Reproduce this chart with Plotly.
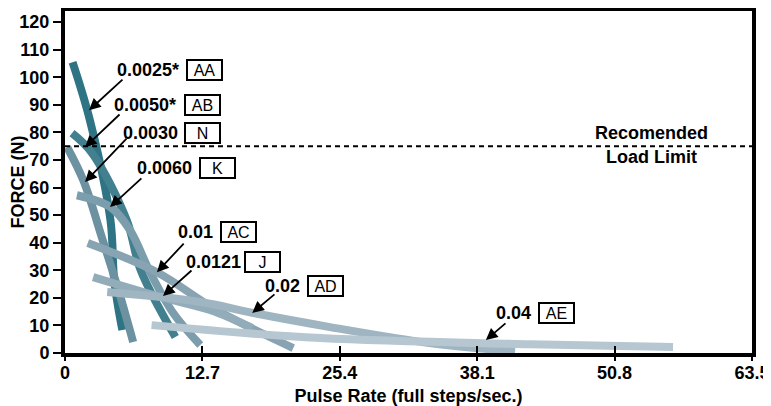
import plotly.graph_objects as go

# curve data: (pulse rate, force)
series_names = ["AA", "AB", "N", "K", "AC", "J", "AD", "AE"]
series_values = ["0.0025*", "0.0050*", "0.0030", "0.0060", "0.01", "0.0121", "0.02", "0.04"]

aa_x = [0.7, 2.3, 4.2, 4.55, 5.3]
aa_y = [105.4, 84.4, 48.2, 26.4, 8.3]
ab_x = [0.65, 2.5, 5.7, 7.0, 10.2]
ab_y = [79.7, 72.5, 48.2, 30.0, 5.8]
n_x = [0.2, 1.7, 3.4, 5.0, 6.3]
n_y = [74.6, 62.5, 42.0, 22.0, 4.0]
k_x = [1.1, 4.2, 6.0, 7.9, 10.0, 12.5]
k_y = [57.2, 52.9, 44.6, 29.0, 14.5, 2.9]
ac_x = [2.1, 8.5, 14.0, 21.1]
ac_y = [39.9, 29.3, 15.6, 1.8]
j_x = [2.6, 8.8, 13.4, 17.3]
j_y = [27.5, 20.3, 15.6, 9.1]
ad_x = [3.9, 12.5, 17.4, 24.5, 33.7, 41.6]
ad_y = [22.1, 18.5, 14.5, 9.4, 3.6, 0.6]
ae_x = [8.0, 23.6, 43.0, 56.2]
ae_y = [10.1, 5.4, 3.2, 2.2]

curves_x = [aa_x, ab_x, n_x, k_x, ac_x, j_x, ad_x, ae_x]
curves_y = [aa_y, ab_y, n_y, k_y, ac_y, j_y, ad_y, ae_y]
colors = ["#2f7484", "#43808f", "#6c91a1", "#7c9dac", "#88a4b3", "#93acba", "#9fb5c2", "#b6c7d1"]

# label placement: number text right edge, box centre, arrow tail and tip
label_x = [10.72, 10.44, 10.63, 11.92, 13.86, 16.45, 21.9, 43.25]
label_y = [102.5, 90.0, 79.7, 67.0, 43.8, 33.0, 24.3, 14.5]
box_x = [12.85, 12.75, 12.75, 14.05, 16.0, 18.3, 24.1, 45.4]
tail_x = [5.45, 5.18, 5.82, 7.2, 11.1, 11.83, 19.5, 40.85]
tail_y = [99.6, 87.0, 78.3, 63.8, 40.2, 30.4, 21.7, 11.2]
tip_x = [2.22, 1.85, 1.85, 4.16, 8.5, 9.06, 17.3, 38.9]
tip_y = [88.0, 74.6, 62.0, 52.9, 29.3, 20.7, 14.5, 4.7]

x_ticks = [0, 12.7, 25.4, 38.1, 50.8, 63.5]
y_ticks = list(range(0, 121, 10))
load_limit = 75

FONT = "Liberation Sans, Arial, sans-serif"


def main():
    fig = go.Figure()

    for i, name in enumerate(series_names):
        fig.add_trace(go.Scatter(
            x=curves_x[i], y=curves_y[i], mode="lines", name=name,
            line=dict(color=colors[i], width=8, shape="spline"),
            showlegend=False,
        ))
    # invisible traces so the overlay axes (tick marks through the axis) are drawn
    for ax in ["x2", "x3"]:
        fig.add_trace(go.Scatter(x=[0], y=[0], xaxis=ax, mode="markers",
                                 marker=dict(opacity=0), showlegend=False, hoverinfo="skip"))

    fig.add_shape(type="line", x0=0, x1=63.5, y0=load_limit, y1=load_limit,
                  line=dict(color="black", width=2, dash="5px,4px"))

    for i, name in enumerate(series_names):
        fig.add_annotation(x=label_x[i], y=label_y[i], text=series_values[i],
                           showarrow=False, xanchor="right",
                           font=dict(family=FONT, size=18, color="black", weight="bold"))
        fig.add_annotation(x=box_x[i], y=label_y[i], text=name, showarrow=False,
                           width=33, height=18, bordercolor="black", borderwidth=2,
                           borderpad=0, bgcolor="white",
                           font=dict(family=FONT, size=16, color="black"))
        fig.add_annotation(x=tip_x[i], y=tip_y[i], ax=tail_x[i], ay=tail_y[i],
                           axref="x", ayref="y", text="", showarrow=True,
                           arrowhead=2, arrowsize=1.3, arrowwidth=1.8,
                           arrowcolor="black")

    fig.add_annotation(x=54.25, y=79.7, text="Recomended", showarrow=False,
                       font=dict(family=FONT, size=18, color="black", weight="bold"))
    fig.add_annotation(x=54.25, y=71.0, text="Load Limit", showarrow=False,
                       font=dict(family=FONT, size=18, color="black", weight="bold"))

    tick_axis = dict(overlaying="x", matches="x", range=[0, 63.5], tickvals=x_ticks,
                     ticklen=7, tickwidth=2, tickcolor="black", showticklabels=False,
                     showline=False, showgrid=False, zeroline=False, automargin=False)

    # the page adds an 8px body margin, so the figure is 8px smaller each way
    fig.update_layout(
        width=763, height=398, margin=dict(l=57, r=19, t=3, b=53),
        plot_bgcolor="white", paper_bgcolor="white",
        xaxis=dict(range=[0, 63.5], tickvals=x_ticks, ticktext=[str(t) for t in x_ticks],
                   showline=True, linewidth=4, linecolor="black", mirror=True,
                   ticks="", showgrid=False, zeroline=False, automargin=False,
                   tickfont=dict(family=FONT, size=18, color="black", weight="bold"),
                   title=dict(text="Pulse Rate (full steps/sec.)", standoff=9,
                              font=dict(family=FONT, size=18, color="black", weight="bold"))),
        yaxis=dict(range=[0, 124], tickvals=y_ticks,
                   showline=True, linewidth=4, linecolor="black", mirror=True,
                   ticks="outside", ticklen=8, tickwidth=2, tickcolor="black",
                   showgrid=False, zeroline=False, automargin=False,
                   tickfont=dict(family=FONT, size=18, color="black", weight="bold"),
                   title=dict(text="FORCE (N)", standoff=4,
                              font=dict(family=FONT, size=18, color="black", weight="bold"))),
        xaxis2=dict(tick_axis, ticks="inside"),
        xaxis3=dict(tick_axis, ticks="outside"),
    )
    fig.write_html("out.html")


if __name__ == "__main__":
    main()
